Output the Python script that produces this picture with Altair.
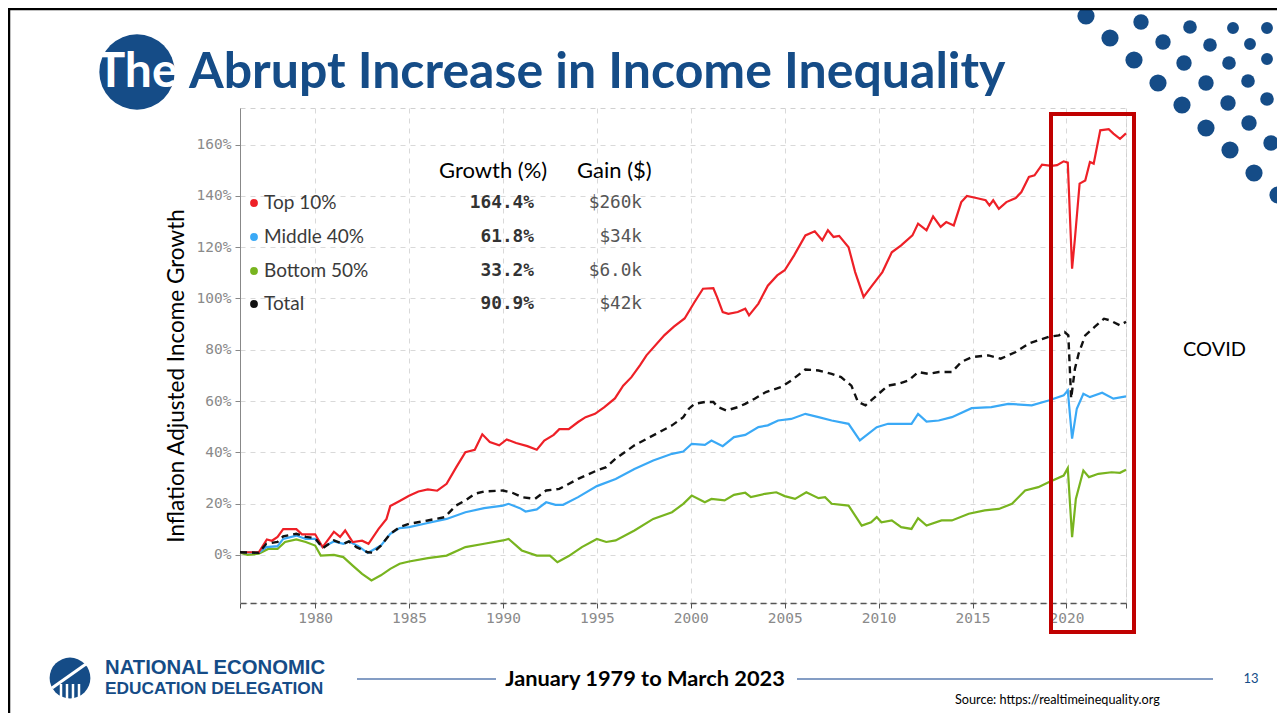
import altair as alt
import pandas as pd

# ---------------- data ----------------
top10 = [(1976.0, 1), (1977.0, 1), (1977.43, 6), (1977.7, 5.5), (1978.0, 7), (1978.3, 10), (1979.0, 10),
         (1979.3, 8), (1980.0, 8), (1980.4, 3), (1981.0, 9), (1981.33, 7), (1981.6, 9.5), (1982.0, 5),
         (1982.5, 5.5), (1982.84, 4.3), (1983.37, 10), (1983.8, 14), (1984.0, 19), (1984.5, 21),
         (1985.0, 23), (1985.5, 24.7), (1986.0, 25.5), (1986.5, 25), (1987.0, 27.7), (1987.5, 34),
         (1988.0, 40), (1988.5, 41), (1988.9, 47), (1989.3, 44), (1989.8, 42.7), (1990.2, 45),
         (1990.7, 43.6), (1991.3, 42.4), (1991.8, 41), (1992.2, 44.6), (1992.7, 46.8), (1993.0, 49),
         (1993.5, 49), (1994.0, 51.8), (1994.4, 53.7), (1994.9, 55), (1995.4, 57.6), (1995.96, 61),
         (1996.4, 66), (1996.84, 69.3), (1997.3, 74), (1997.64, 77.8), (1998.6, 85.7), (1999.1, 89),
         (1999.67, 92.2), (2000.2, 98.6), (2000.65, 103.8), (2001.2, 104), (2001.4, 100.5),
         (2001.7, 94.7), (2002.0, 94), (2002.5, 94.7), (2002.9, 96), (2003.1, 93.4), (2003.6, 98),
         (2004.1, 105), (2004.6, 109), (2005.0, 111), (2005.5, 116.8), (2006.1, 124.6), (2006.6, 126.2),
         (2007.0, 122.7), (2007.3, 126.6), (2007.6, 124), (2007.9, 124.4), (2008.4, 120),
         (2008.75, 110.3), (2009.2, 100.6), (2009.6, 104.5), (2010.2, 110.3), (2010.7, 118),
         (2011.2, 120.7), (2011.8, 124.6), (2012.1, 129.2), (2012.55, 126.6), (2012.9, 132),
         (2013.3, 127.9), (2013.6, 129.8), (2014.0, 128.5), (2014.4, 137.6), (2014.7, 140),
         (2015.2, 139.2), (2015.7, 138.3), (2015.9, 136.3), (2016.1, 138.3), (2016.4, 135),
         (2016.8, 137.6), (2017.3, 139.2), (2017.6, 141.5), (2018.0, 147.4), (2018.3, 148),
         (2018.7, 152.2), (2019.2, 151.7), (2019.5, 152), (2019.85, 153.5), (2020.07, 153),
         (2020.3, 111.6), (2020.45, 123.3), (2020.7, 144.8), (2021.0, 146), (2021.25, 153.2),
         (2021.45, 152.6), (2021.8, 165.6), (2022.25, 166), (2022.5, 164.3), (2022.85, 162.3),
         (2023.17, 164.4)]

middle40 = [(1976.0, 1), (1977.0, 0.8), (1977.4, 3), (1978.0, 3.4), (1978.3, 6.2), (1979.0, 7.5),
            (1979.5, 6.2), (1980.0, 6.2), (1980.4, 3), (1981.0, 5.2), (1981.5, 4.3), (1981.8, 5.2),
            (1982.3, 3.4), (1982.8, 0.7), (1983.5, 3.6), (1984.0, 8.2), (1984.5, 10.4), (1985.0, 10.8),
            (1986.0, 12.4), (1987.0, 14), (1988.0, 16.6), (1989.0, 18.2), (1990.0, 19.2), (1990.3, 19.9),
            (1990.9, 18.2), (1991.2, 16.9), (1991.8, 17.7), (1992.3, 20.5), (1992.8, 19.5),
            (1993.2, 19.5), (1994.0, 22.5), (1995.0, 26.8), (1996.0, 29.6), (1997.0, 33.5),
            (1998.0, 36.8), (1999.0, 39.4), (1999.6, 40.3), (2000.05, 43.3), (2000.75, 42.9),
            (2001.1, 44.6), (2001.7, 42.4), (2002.3, 45.9), (2002.9, 46.8), (2003.6, 49.8),
            (2004.1, 50.5), (2004.65, 52.4), (2005.35, 53), (2006.1, 55), (2006.8, 53.7),
            (2007.5, 52.4), (2008.4, 51.1), (2009.0, 44.6), (2009.9, 49.8), (2010.5, 51.1),
            (2011.2, 51.1), (2011.75, 51.1), (2012.1, 55), (2012.55, 52), (2013.2, 52.4),
            (2013.9, 53.7), (2014.95, 57.2), (2016.0, 57.6), (2016.9, 58.9), (2018.15, 58.3),
            (2019.05, 60.2), (2019.85, 62.2), (2020.07, 64.1), (2020.3, 45.3), (2020.55, 57),
            (2020.9, 62.8), (2021.25, 61.5), (2021.9, 63.2), (2022.5, 60.9), (2023.17, 61.8)]

bottom50 = [(1976.0, 0.8), (1976.4, 0), (1977.0, 0.4), (1977.5, 2.3), (1978.0, 2.3), (1978.4, 5),
            (1979.0, 6), (1979.5, 5), (1980.0, 3.6), (1980.3, -0.3), (1981.0, 0), (1981.5, -0.9),
            (1982.0, -4.2), (1982.5, -7.4), (1983.0, -10), (1983.5, -8), (1984.0, -5.5),
            (1984.5, -3.5), (1985.0, -2.6), (1986.0, -1.3), (1987.0, -0.3), (1988.0, 3), (1989.0, 4.3),
            (1990.0, 5.6), (1990.3, 6.2), (1991.0, 1.7), (1991.8, -0.3), (1992.5, -0.3),
            (1992.9, -2.9), (1993.5, -0.5), (1994.2, 3), (1995.0, 6.2), (1995.5, 5), (1996.0, 5.6),
            (1997.0, 9.5), (1998.0, 14), (1999.0, 16.6), (1999.6, 19.9), (2000.05, 23.1),
            (2000.75, 20.5), (2001.1, 21.8), (2001.8, 21.2), (2002.3, 23.4), (2002.9, 24.2),
            (2003.2, 22.5), (2003.95, 23.8), (2004.55, 24.4), (2005.0, 22.9), (2005.55, 21.8),
            (2006.15, 24.4), (2006.8, 22.1), (2007.15, 22.5), (2007.5, 19.9), (2008.4, 19.2),
            (2009.1, 11.4), (2009.6, 12.7), (2009.9, 14.7), (2010.15, 12.7), (2010.7, 13.4),
            (2011.2, 10.8), (2011.75, 10.1), (2012.1, 14.3), (2012.55, 11.4), (2013.35, 13.4),
            (2013.9, 13.4), (2014.8, 16), (2015.65, 17.3), (2016.4, 17.9), (2017.1, 19.9),
            (2017.8, 25.1), (2018.5, 26.4), (2019.05, 28.3), (2019.85, 30.9), (2020.07, 33.8),
            (2020.3, 6.9), (2020.5, 21.8), (2020.9, 32.9), (2021.2, 30.3), (2021.7, 31.6),
            (2022.4, 32.2), (2022.85, 32), (2023.17, 33.2)]

total = [(1976.0, 1), (1977.0, 0.8), (1977.4, 4.3), (1978.0, 5), (1978.3, 7.2), (1979.0, 8.2),
         (1979.5, 7), (1980.0, 6.5), (1980.4, 2.6), (1981.0, 5.6), (1981.5, 4.3), (1981.8, 5.2),
         (1982.2, 3), (1982.8, 1), (1983.1, 0.8), (1983.5, 3.6), (1984.0, 8.2), (1984.5, 10.8),
         (1985.0, 12.1), (1986.0, 13.4), (1986.9, 14.7), (1987.5, 19.2), (1988.0, 21.2),
         (1988.5, 23.8), (1989.0, 24.7), (1990.0, 25.1), (1990.5, 24.2), (1991.0, 22.5),
         (1991.7, 21.8), (1992.3, 25.1), (1993.0, 25.7), (1994.0, 29.6), (1995.0, 32.9),
         (1995.5, 34.2), (1996.0, 37.5), (1997.0, 42.7), (1998.0, 46.6), (1999.0, 50.5),
         (1999.6, 53.7), (1999.9, 57), (2000.2, 58.9), (2000.75, 59.6), (2001.2, 59.6),
         (2001.45, 57.6), (2001.9, 56.3), (2002.5, 57.6), (2002.9, 58.9), (2003.4, 60.9),
         (2004.0, 63.5), (2004.8, 65.4), (2005.35, 68), (2006.1, 72.3), (2006.8, 71.9),
         (2007.5, 70.6), (2008.0, 69.3), (2008.55, 66), (2008.9, 59.6), (2009.3, 58.3),
         (2010.0, 62.8), (2010.5, 66), (2011.05, 66.7), (2011.6, 68), (2012.1, 71.3),
         (2012.65, 70.6), (2013.2, 71.3), (2013.9, 71.3), (2014.4, 75.2), (2014.95, 77.1),
         (2015.85, 77.8), (2016.5, 76.5), (2017.3, 79.1), (2018.0, 82.4), (2018.5, 83.7),
         (2019.05, 85), (2019.6, 85.6), (2019.9, 86.9), (2020.1, 85.6), (2020.25, 61),
         (2020.45, 72.6), (2020.65, 78.5), (2021.0, 85.6), (2021.5, 88.9), (2022.0, 92.1),
         (2022.3, 91.5), (2022.85, 89.5), (2023.17, 90.9)]

series_names = ["Top 10%", "Middle 40%", "Bottom 50%", "Total"]
series_colors = ["#ee2027", "#3aa9f6", "#78b41f", "#111111"]
growth_labels = ["164.4%", "61.8%", "33.2%", "90.9%"]
gain_labels = ["$260k", "$34k", "$6.0k", "$42k"]
x_ticks = [1976, 1980, 1985, 1990, 1995, 2000, 2005, 2010, 2015, 2020, 2023.17]
y_ticks = [0, 20, 40, 60, 80, 100, 120, 140, 160]

# ---------------- layout ----------------
W, H = 886, 495
PAD = {"left": 232, "top": 100, "right": 151, "bottom": 110}
OX, OY = 240, 108  # page coords of plot origin
NAVY = "#154c87"
one = pd.DataFrame({"k": [0]})


def X(px):
    return alt.value(px - OX)


def Y(py):
    return alt.value(py - OY)


def txt(text, px, py, size, color="#000000", font="Lato", weight="normal",
        align="left", baseline="middle", angle=None):
    kw = dict(text=text, fontSize=size, color=color, font=font, fontWeight=weight,
              align=align, baseline=baseline)
    if angle is not None:
        kw["angle"] = angle
    return alt.Chart(one).mark_text(**kw).encode(x=X(px), y=Y(py))


def dot(px, py, r, color=NAVY):
    return alt.Chart(one).mark_circle(size=3.1416 * r * r, color=color, opacity=1).encode(x=X(px), y=Y(py))


def rule(x1, y1, x2, y2, color, width, dash=None):
    kw = dict(color=color, strokeWidth=width)
    if dash:
        kw["strokeDash"] = dash
    return alt.Chart(one).mark_rule(**kw).encode(x=X(x1), y=Y(y1), x2=X(x2), y2=Y(y2))


xscale = alt.Scale(domain=[1976, 2023.17], nice=False, zero=False)
yscale = alt.Scale(domain=[-18.8, 174.3], nice=False, zero=False)

xaxis = alt.Axis(values=x_ticks, format="d", labelExpr="datum.value % 5 == 0 ? datum.label : ''",
                 title=None, grid=True, gridColor="#d9d9d9", gridDash=[5, 5],
                 domainColor="#555555", domainDash=[6, 4], domainWidth=1.5,
                 tickColor="#555555", tickSize=5, labelFont="DejaVu Sans Mono",
                 labelFontSize=14.5, labelColor="#8a8a8a", labelPadding=3)
yaxis = alt.Axis(values=y_ticks, labelExpr="datum.value + '%'", title=None, grid=True,
                 gridColor="#d9d9d9", gridDash=[5, 5], domainColor="#888888",
                 tickColor="#888888", tickSize=5, labelFont="DejaVu Sans Mono",
                 labelFontSize=14.5, labelColor="#8a8a8a", labelPadding=4)


def series_layer(pairs, color, dash=None):
    df = pd.DataFrame(pairs, columns=["year", "value"])
    kw = dict(color=color, strokeWidth=2.2 if dash is None else 2.4)
    if dash:
        kw["strokeDash"] = dash
    return alt.Chart(df).mark_line(**kw).encode(
        x=alt.X("year:Q", scale=xscale, axis=xaxis),
        y=alt.Y("value:Q", scale=yscale, axis=yaxis),
    )


layers = [
    series_layer(bottom50, series_colors[2]),
    series_layer(middle40, series_colors[1]),
    series_layer(top10, series_colors[0]),
    series_layer(total, series_colors[3], dash=[7, 5]),
]

# legend table
layers.append(txt("Growth (%)", 439, 171, 22))
layers.append(txt("Gain ($)", 577, 171, 22))
row_y = [203, 237, 271, 304]
for name, col, g, gain, ry in zip(series_names, series_colors, growth_labels, gain_labels, row_y):
    layers.append(dot(254, ry, 4.4, col))
    layers.append(txt(name, 264, ry, 19, color="#3a3a3a"))
    layers.append(txt(g, 534, ry, 17.8, color="#333333", font="DejaVu Sans Mono", weight="bold", align="right"))
    layers.append(txt(gain, 642, ry, 17.7, color="#555555", font="DejaVu Sans Mono", align="right"))

# axis title
layers.append(txt("Inflation Adjusted Income Growth", 177, 376, 22.5, angle=270, align="center"))

# COVID box and label
layers.append(alt.Chart(one).mark_rect(fillOpacity=0, stroke="#c00000", strokeWidth=4).encode(
    x=X(1051), x2=X(1134), y=Y(114), y2=Y(632)))
layers.append(txt("COVID", 1183, 350, 20))

# slide title
layers.append(dot(137, 72, 42.5))
layers.append(txt("The", 137, 73, 48, color="#ffffff", weight="bold", align="center"))
layers.append(txt("Abrupt Increase in Income Inequality", 189, 73, 50, color=NAVY, weight="bold"))

# decorative dots (top right)
deco = [(1086, 16, 9.7), (1141, 22, 8.7), (1190, 27, 7.7), (1233, 28, 6.7), (1267, 28, 6.7),
        (1110, 38, 9.7), (1163, 42, 8.7), (1210, 45, 7.7), (1250, 44, 6.7),
        (1134, 60, 9.7), (1184, 63, 8.7), (1229, 63, 7.7), (1267, 59, 6.7),
        (1158, 83, 9.7), (1206, 83, 8.7), (1248, 81, 7.7),
        (1182, 105, 9.7), (1228, 103, 8.7), (1267, 99, 7.7),
        (1206, 128, 9.7), (1249, 123, 8.7),
        (1230, 150, 9.7), (1271, 143, 8.7),
        (1254, 173, 9.7), (1278, 195, 9.7)]
for dx, dy, r in deco:
    layers.append(dot(dx, dy, r))

# slide frame
layers.append(rule(8, 9, 1285, 9, "#000000", 2.5))
layers.append(rule(9, 8, 9, 721, "#000000", 2.5))

# footer
layers.append(dot(70, 678, 23))
for bx in [61, 67, 73, 79]:
    layers.append(rule(bx, 684, bx, 701, "#ffffff", 2.5))
layers.append(rule(52, 688, 86, 664, "#ffffff", 3))
layers.append(txt("NATIONAL ECONOMIC", 105, 668, 20.3, color=NAVY, font="Liberation Sans", weight="bold"))
layers.append(txt("EDUCATION DELEGATION", 105, 689, 17.3, color=NAVY, font="Liberation Sans", weight="bold"))
layers.append(rule(357, 679, 496, 679, "#5b7db1", 1.5))
layers.append(rule(797, 679, 1213, 679, "#5b7db1", 1.5))
layers.append(txt("January 1979 to March 2023", 645, 679, 21.8, weight="bold", align="center"))
layers.append(txt("13", 1251, 679, 13, color=NAVY, align="center"))
layers.append(txt("Source: https://realtimeinequality.org", 955, 700, 12.7))

chart = alt.layer(*layers).properties(
    width=W, height=H,
    autosize=alt.AutoSizeParams(type="none"),
    padding=PAD,
    background="#ffffff",
).configure_view(stroke="#d0d0d0", strokeDash=[5, 5])

chart.save("out.html", embed_options={"renderer": "svg", "actions": False})
